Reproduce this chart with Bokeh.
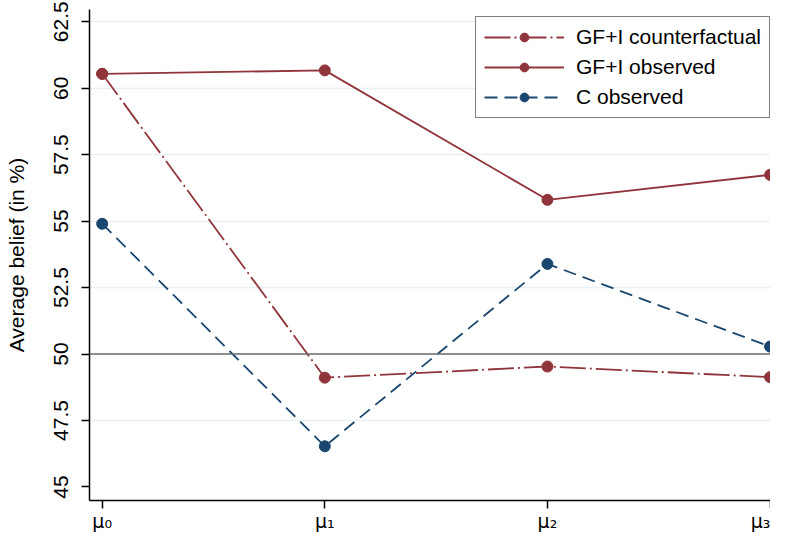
from bokeh.plotting import figure
from bokeh.models import FixedTicker, Span, Range1d, Legend, LegendItem
from bokeh.embed import file_html
from bokeh.resources import INLINE

# ---- data ----
x_pos = [0, 1, 2, 3]
x_labels = ["μ₀", "μ₁", "μ₂", "μ₃"]
y_ticks = [45, 47.5, 50, 52.5, 55, 57.5, 60, 62.5]
y_tick_labels = ["45", "47.5", "50", "52.5", "55", "57.5", "60", "62.5"]
grid_ticks = [47.5, 52.5, 55, 57.5, 60, 62.5]
ref_level = 50

gfi_counterfactual = [60.54, 49.11, 49.53, 49.13]
gfi_observed = [60.54, 60.67, 55.80, 56.74]
c_observed = [54.90, 46.53, 53.39, 50.28]

RED = "#90353B"
BLUE = "#1A476F"
FONT = "Liberation Sans"

p = figure(width=770, height=534, output_backend="svg", toolbar_location=None,
           x_range=Range1d(-0.057, 3.002), y_range=Range1d(44.49, 62.96),
           min_border_left=89, min_border_right=0, min_border_top=9,
           min_border_bottom=30)
p.outline_line_color = None
p.background_fill_color = "white"
p.border_fill_color = "white"

# grid
p.xgrid.visible = False
p.ygrid.ticker = FixedTicker(ticks=grid_ticks)
p.ygrid.grid_line_color = "#E8F0F2"
p.ygrid.grid_line_width = 1.5

# reference line
p.add_layout(Span(location=ref_level, dimension="width", line_color="#6A6A6A",
                  line_width=1.3))

# series
l1 = p.line(x_pos, gfi_counterfactual, line_color=RED, line_width=1.8,
            line_dash="26 4 2 4")
s1 = p.scatter(x_pos, gfi_counterfactual, size=11, fill_color=RED, line_color=RED)
l2 = p.line(x_pos, gfi_observed, line_color=RED, line_width=1.8)
s2 = p.scatter(x_pos, gfi_observed, size=11, fill_color=RED, line_color=RED)
l3 = p.line(x_pos, c_observed, line_color=BLUE, line_width=1.8, line_dash="13 7")
s3 = p.scatter(x_pos, c_observed, size=11, fill_color=BLUE, line_color=BLUE)

# axes
p.xaxis.ticker = FixedTicker(ticks=x_pos)
p.xaxis.major_label_overrides = {xv: lab for xv, lab in zip(x_pos, x_labels)}
p.yaxis.ticker = FixedTicker(ticks=y_ticks)
p.yaxis.major_label_overrides = {yv: lab for yv, lab in zip(y_ticks, y_tick_labels)}
p.yaxis.major_label_orientation = "vertical"

for ax in (p.xaxis[0], p.yaxis[0]):
    ax.axis_line_color = "black"
    ax.axis_line_width = 1.5
    ax.major_tick_line_color = "black"
    ax.major_tick_line_width = 1.5
    ax.major_tick_in = 0
    ax.major_tick_out = 8
    ax.minor_tick_line_color = None
    ax.major_label_text_color = "black"

p.yaxis.major_label_text_font = FONT
p.yaxis.major_label_text_font_size = "21px"
p.xaxis.major_label_text_font = "DejaVu Sans"
p.xaxis.major_label_text_font_size = "19px"

p.xaxis.major_label_standoff = 1
p.xaxis.axis_label = None
p.yaxis.major_label_standoff = 13
p.yaxis.axis_label = "Average belief (in %)"
p.yaxis.axis_label_text_font = FONT
p.yaxis.axis_label_text_font_size = "21px"
p.yaxis.axis_label_text_font_style = "normal"
p.yaxis.axis_label_text_color = "black"
p.yaxis.axis_label_standoff = 24

legend = Legend(items=[
    LegendItem(label="GF+I counterfactual", renderers=[l1, s1]),
    LegendItem(label="GF+I observed", renderers=[l2, s2]),
    LegendItem(label="C observed", renderers=[l3, s3]),
], location=(386, 382))
legend.border_line_color = "black"
legend.border_line_width = 1.2
legend.background_fill_color = "white"
legend.background_fill_alpha = 1
legend.label_text_font = FONT
legend.label_text_font_size = "21px"
legend.label_text_color = "black"
legend.glyph_width = 80
legend.glyph_height = 22
legend.label_height = 22
legend.spacing = 6
legend.padding = 8
legend.label_standoff = 12
legend.margin = 0
p.add_layout(legend)

open("out.html", "w").write(file_html(p, INLINE))
